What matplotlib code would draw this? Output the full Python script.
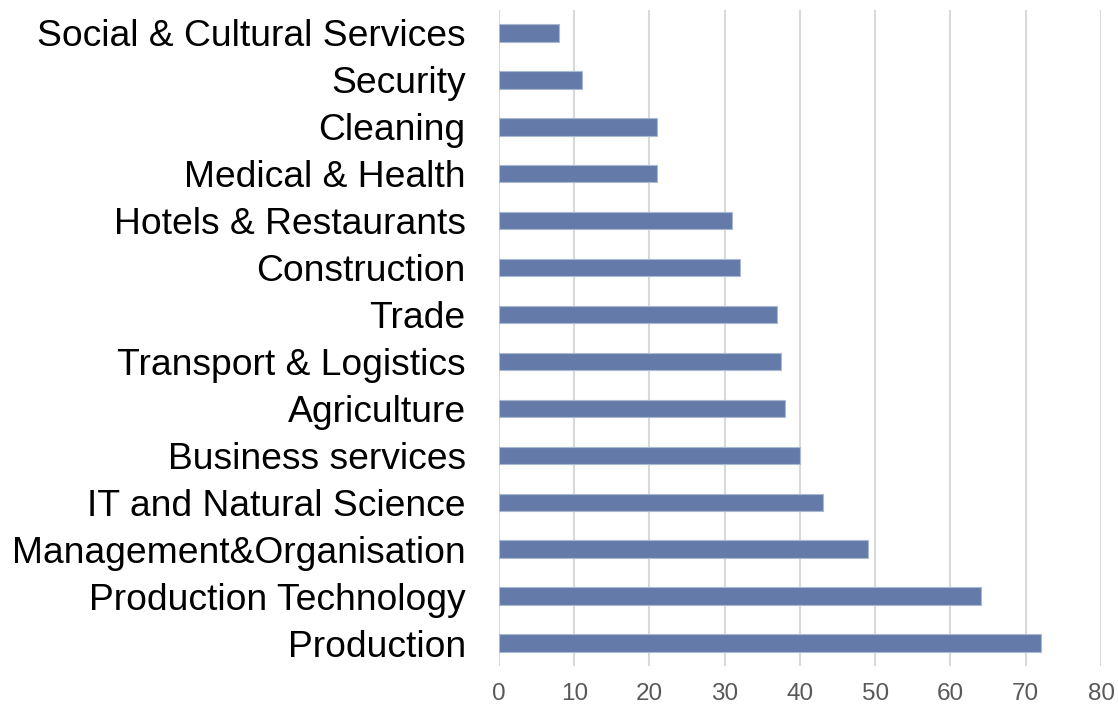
import matplotlib.pyplot as plt

plt.rcParams['font.family'] = ['Liberation Sans', 'DejaVu Sans']

categories = ["Social & Cultural Services", "Security", "Cleaning", "Medical & Health",
              "Hotels & Restaurants", "Construction", "Trade", "Transport & Logistics",
              "Agriculture", "Business services", "IT and Natural Science",
              "Management&Organisation", "Production Technology", "Production"]
values = [8, 11, 21, 21, 31, 32, 37, 37.5, 38, 40, 43, 49, 64, 72]
xticks = [0, 10, 20, 30, 40, 50, 60, 70, 80]

fig = plt.figure(figsize=(11.18, 7.06), dpi=100)
ax = fig.add_axes([0.4463, 0.056, 0.5385, 0.9305])

pos = list(range(len(categories)))
ax.barh(pos, values, height=0.37, color='#647ba9', edgecolor='#a9b8d3', linewidth=0.8, zorder=3)
ax.set_ylim(len(categories) - 0.5, -0.5)
ax.set_xlim(0, 80)
ax.set_yticks(pos)
ax.set_yticklabels(categories, fontsize=26.8, color='black')
ax.set_xticks(xticks)
ax.set_xticklabels([str(t) for t in xticks], fontsize=17.5, color='#595959')
ax.tick_params(axis='y', length=0, pad=24)
ax.tick_params(axis='x', length=0, pad=12)
ax.xaxis.grid(True, color='#d9d9d9', linewidth=1.5, zorder=0)
for s in ax.spines.values():
    s.set_visible(False)

fig.savefig('out.png', dpi=100)
